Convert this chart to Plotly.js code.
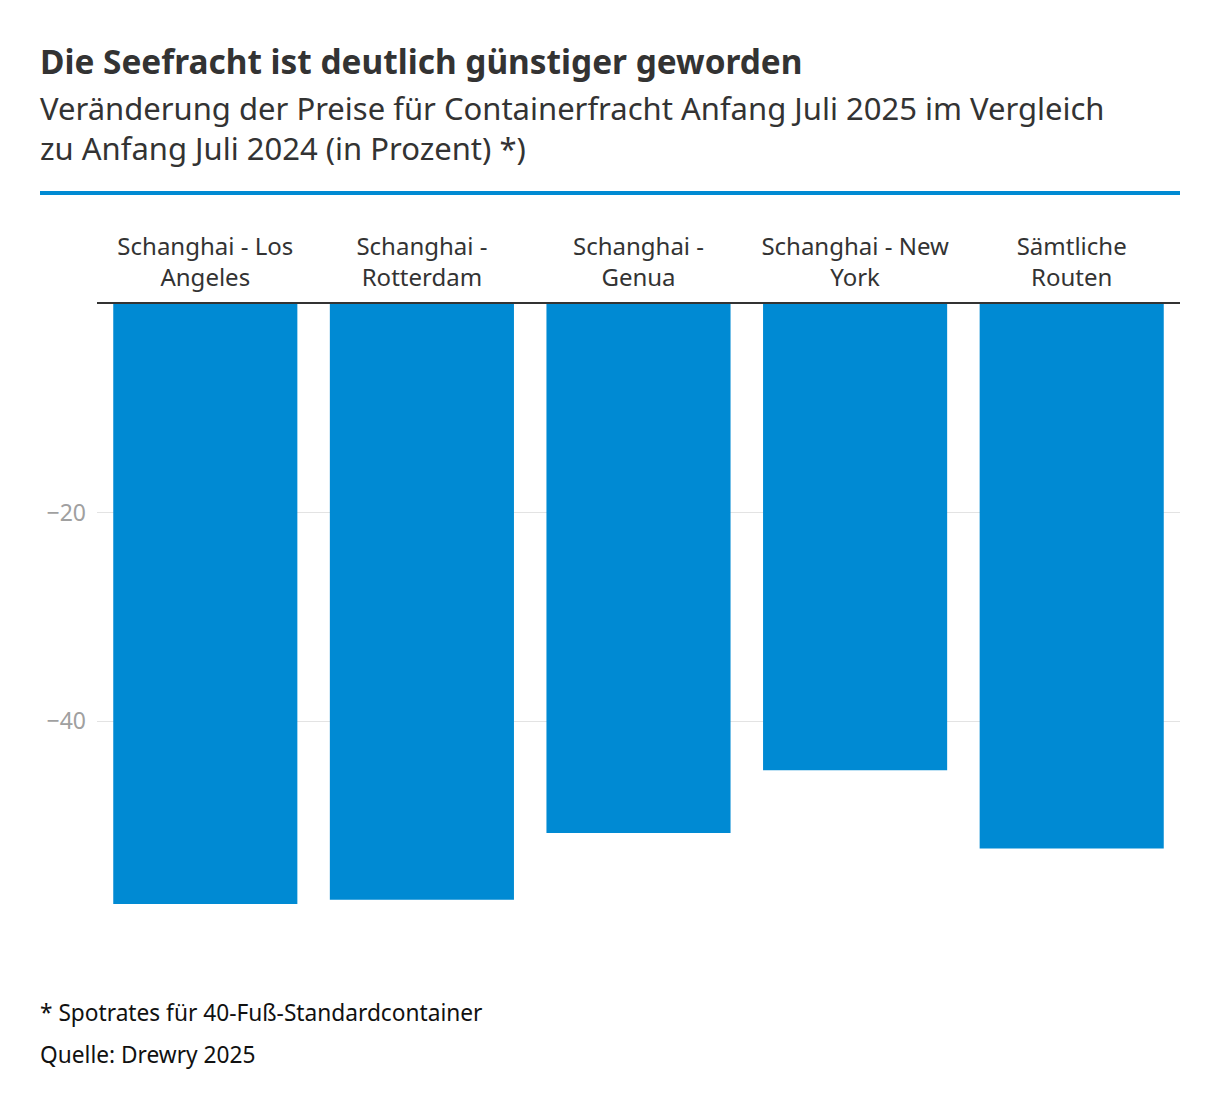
<!DOCTYPE html>
<html>
<head>
<meta charset="utf-8">
<script src="https://cdn.plot.ly/plotly-3.0.1.min.js"></script>
<style>html,body{margin:0;padding:0;background:#fff;}#chart{width:1220px;height:1110px;}</style>
</head>
<body>
<div id="chart"></div>
<script>
const categories = ["Schanghai - Los<br>Angeles", "Schanghai -<br>Rotterdam", "Schanghai -<br>Genua", "Schanghai - New<br>York", "Sämtliche<br>Routen"];
const values = [-57.5, -57.1, -50.7, -44.7, -52.2];
const yTickVals = [-20, -40];
const yTickText = ["−20", "−40"];

const titleText = "Die Seefracht ist deutlich günstiger geworden";
const subtitleText = "Veränderung der Preise für Containerfracht Anfang Juli 2025 im Vergleich<br>zu Anfang Juli 2024 (in Prozent) *)";
const noteText = "* Spotrates für 40-Fuß-Standardcontainer";
const sourceText = "Quelle: Drewry 2025";

const W = 1220, H = 1110;
const M = {l: 97, r: 40, t: 304, b: 180};
const PH = H - M.t - M.b, PW = W - M.l - M.r;
const font = "Noto Sans, Open Sans, sans-serif";
const py = px => 1 - (px - M.t) / PH;   // pixel y -> paper y
const xLeft = (40 - M.l) / PW;

const trace = {
  type: "bar",
  x: categories,
  y: values,
  marker: {color: "#008AD3"},
  hoverinfo: "x+y"
};

function ann(text, yPx, size, color) {
  return {text: text, xref: "paper", yref: "paper", x: xLeft, y: py(yPx),
    xanchor: "left", yanchor: "middle", showarrow: false, align: "left",
    xshift: -2, font: {size: size, color: color, family: font}};
}

const layout = {
  width: W, height: H,
  margin: M,
  paper_bgcolor: "#fff", plot_bgcolor: "#fff",
  showlegend: false,
  bargap: 0.15,
  font: {family: font, color: "#333"},
  xaxis: {
    side: "top",
    showline: true, linecolor: "#333", linewidth: 2,
    ticks: "", showgrid: false,
    tickfont: {size: 24, color: "#333", family: font},
    ticklabelstandoff: 6,
    fixedrange: true
  },
  yaxis: {
    range: [-60, 0],
    tickvals: yTickVals, ticktext: yTickText,
    showgrid: true, gridcolor: "#e3e3e3", gridwidth: 1,
    zeroline: false, showline: false, ticks: "",
    tickfont: {size: 23, color: "#a0a0a0", family: font},
    ticklabelstandoff: 10,
    fixedrange: true
  },
  shapes: [{
    type: "line", xref: "paper", yref: "paper",
    x0: xLeft, x1: 1, y0: py(193), y1: py(193),
    line: {color: "#008AD3", width: 4}
  }],
  annotations: [
    ann("<b>" + titleText + "</b>", 61, 33.4, "#333"),
    ann(subtitleText, 128, 31, "#333"),
    ann(noteText, 1012, 22.7, "#111"),
    ann(sourceText, 1054, 22.7, "#111")
  ]
};

Plotly.newPlot("chart", [trace], layout, {displayModeBar: false, staticPlot: true});
</script>
</body>
</html>
